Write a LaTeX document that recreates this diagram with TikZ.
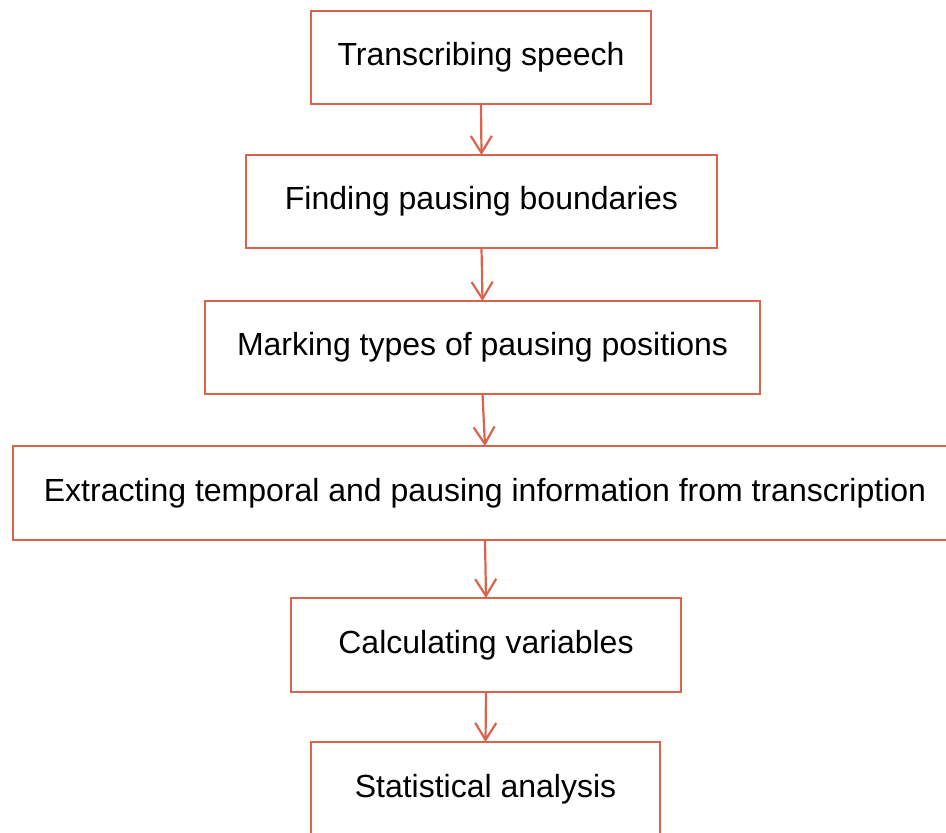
\documentclass[tikz,border=0pt]{standalone}
\usepackage{fontspec}
\setmainfont{Liberation Sans}
\usetikzlibrary{arrows.meta}
\definecolor{flowline}{RGB}{217,100,75}
\tikzset{
  stepbox/.style={draw=flowline, line width=2.4pt, rectangle, inner sep=0pt,
    outer sep=0pt, font=\fontsize{32}{36}\selectfont, text=black},
  flowarrow/.style={draw=flowline, line width=2.2pt,
    -{Straight Barb[length=17pt,width=21pt,line width=2.2pt]}}
}
\begin{document}
\begin{tikzpicture}[x=1pt,y=-1pt]
  \useasboundingbox (0,0) rectangle (946,833);
  \clip (0,0) rectangle (946,833);
  \node[stepbox, minimum width=340pt, minimum height=93pt] (n1) at (481,57.5) {Transcribing speech};
  \node[stepbox, minimum width=471pt, minimum height=93pt] (n2) at (481.5,201.5) {Finding pausing boundaries};
  \node[stepbox, minimum width=555pt, minimum height=93pt] (n3) at (482.5,347.5) {Marking types of pausing positions};
  \node[stepbox, minimum width=944pt, minimum height=94pt] (n4) at (485,493) {Extracting temporal and pausing information from transcription};
  \node[stepbox, minimum width=390pt, minimum height=94pt] (n5) at (486,645) {Calculating variables};
  \node[stepbox, minimum width=349pt, minimum height=94pt] (n6) at (485.5,789) {Statistical analysis};
  \draw[flowarrow] (n1.south) -- (n2.north);
  \draw[flowarrow] (n2.south) -- (n3.north);
  \draw[flowarrow] (n3.south) -- (n4.north);
  \draw[flowarrow] (n4.south) -- (n5.north);
  \draw[flowarrow] (n5.south) -- (n6.north);
\end{tikzpicture}
\end{document}
